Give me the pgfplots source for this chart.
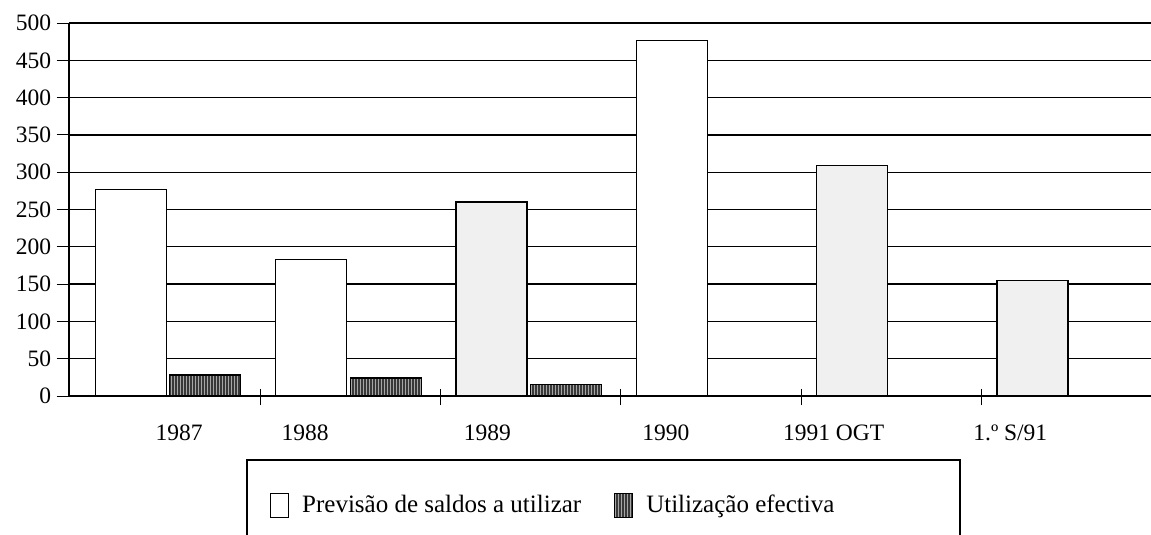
\documentclass[border=0pt]{standalone}
\usepackage{fontspec}
\setmainfont{Liberation Serif}
\usepackage{pgfplots}
\usetikzlibrary{patterns}
\pgfplotsset{compat=1.18}
\begin{document}
\fontsize{23}{27}\selectfont
\begin{tikzpicture}
\begin{axis}[
  name=ax, anchor=south west, at={(0pt,0pt)},
  scale only axis, width=1082pt, height=373pt,
  xmin=-0.06, xmax=5.94, ymin=0, ymax=500,
  axis lines=left, axis line style={-, line width=1.2pt},
  ytick={0,50,...,500},
  ymajorgrids, grid style={black, line width=1.3pt},
  tick align=outside, major tick length=16pt,
  ytick style={black, line width=1pt, xshift=4pt},
  xtick style={black, line width=1pt, yshift=7pt},
  xtick={1,2,3,4,5}, xticklabels={},
  extra x ticks={0.55,1.25,2.26,3.25,4.18,5.16},
  extra x tick labels={1987,1988,1989,1990,1991 OGT,1.º S/91},
  extra x tick style={major tick length=0pt, xticklabel style={yshift=-21pt}},
  /pgf/number format/assume math mode=true,
  tick label style={font=\fontsize{23.5}{27}\selectfont},
  yticklabel style={xshift=6pt},
  ybar, bar width=71pt,
  legend style={draw=none, fill=none, font=\fontsize{25}{29}\selectfont,
    at={(axis description cs:0.183,-0.293)}, anchor=west,
    /tikz/every even column/.append style={column sep=31pt},
    /tikz/every odd column/.append style={column sep=11pt}},
  legend columns=2,
  legend image code/.code={\draw[#1, line width=1pt] (0pt,-12pt) rectangle (18pt,12pt);},
]
\addplot[fill=white, draw=black, line width=1.3pt, bar shift=51pt]
  coordinates {(0,277) (1,183) (3,477)};
\addlegendentry{Previsão de saldos a utilizar}
\addplot[fill=black!78, draw=black, line width=1.3pt, bar shift=125.5pt,
  postaction={pattern=vertical lines, pattern color=black!35}]
  coordinates {(0,28) (1,24) (2,15)};
\addlegendentry{Utilização efectiva}
\addplot[fill=black!6, draw=black, line width=1.3pt, bar shift=51pt, forget plot]
  coordinates {(2,260) (4,309) (5,155)};
\end{axis}
\draw[line width=1.2pt] (178pt,-64pt) rectangle (891pt,-220pt);
\pgfresetboundingbox
\path[use as bounding box] (-69pt,-139pt) rectangle (1082pt,396pt);
\end{tikzpicture}
\end{document}
